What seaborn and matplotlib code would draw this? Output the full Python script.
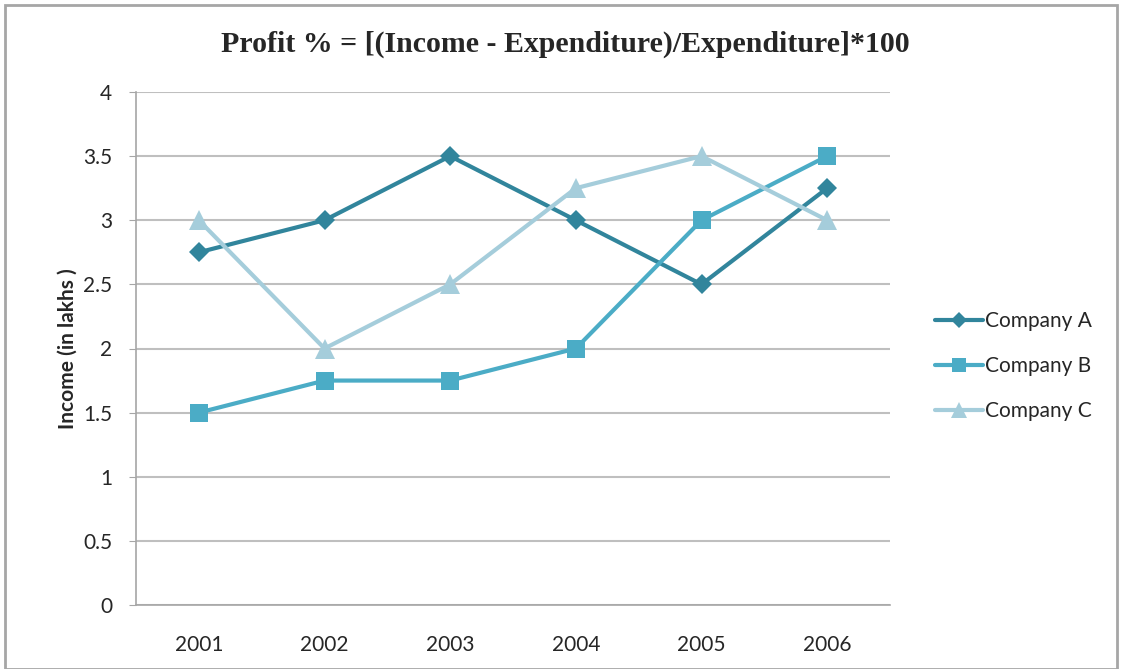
import pandas as pd
import matplotlib.pyplot as plt
import seaborn as sns
from matplotlib.patches import Rectangle

# データ
years = ['2001', '2002', '2003', '2004', '2005', '2006']
company_a = [2.75, 3.0, 3.5, 3.0, 2.5, 3.25]
company_b = [1.5, 1.75, 1.75, 2.0, 3.0, 3.5]
company_c = [3.0, 2.0, 2.5, 3.25, 3.5, 3.0]
series_names = ['Company A', 'Company B', 'Company C']

df = pd.DataFrame({
    'Year': years * 3,
    'Income': company_a + company_b + company_c,
    'Company': [n for n in series_names for _ in years],
})

sns.set_style('white')
plt.rcParams['font.family'] = ['Lato', 'DejaVu Sans']

fig = plt.figure(figsize=(11.23, 6.69), dpi=100)
ax = fig.add_axes([136 / 1123, 64 / 669, 754 / 1123, 513 / 669])

palette = {'Company A': '#31859C', 'Company B': '#4BACC6', 'Company C': '#A5CDDB'}
markers = {'Company A': 'D', 'Company B': 's', 'Company C': '^'}
sizes = {'Company A': 10, 'Company B': 13, 'Company C': 14}

for name in series_names:
    sub = df[df['Company'] == name]
    sns.lineplot(data=sub, x='Year', y='Income', ax=ax, color=palette[name],
                 marker=markers[name], markersize=sizes[name], markeredgewidth=0,
                 linewidth=3, label=name, sort=False, zorder=3)

ax.set_xlim(-0.5, 5.5)
ax.set_ylim(0, 4)
ax.set_yticks([0, 0.5, 1, 1.5, 2, 2.5, 3, 3.5, 4])
ax.set_yticklabels(['0', '0.5', '1', '1.5', '2', '2.5', '3', '3.5', '4'])
ax.yaxis.grid(True, color='#BFBFBF', linewidth=1.5)
ax.xaxis.grid(False)
for s in ['top', 'right']:
    ax.spines[s].set_visible(False)
for s in ['left', 'bottom']:
    ax.spines[s].set_color('#A6A6A6')
    ax.spines[s].set_linewidth(1.2)
ax.tick_params(axis='y', left=True, length=5, color='#A6A6A6', labelsize=15, pad=12)
ax.tick_params(axis='x', bottom=False, labelsize=15, pad=18)
ax.set_xlabel('')
ax.set_ylabel('Income (in lakhs )', fontsize=15, fontweight='bold', labelpad=4)

fig.text(565 / 1123, 1 - 44 / 669, 'Profit % = [(Income - Expenditure)/Expenditure]*100',
         ha='center', va='center', fontsize=21.5, fontweight='bold',
         family=['Liberation Serif', 'DejaVu Serif'])

# 凡例
leg = ax.legend(loc='center left', bbox_to_anchor=(1.035, 0.466), frameon=False,
                fontsize=15, handlelength=2.3, handletextpad=0.1, labelspacing=1.2,
                markerscale=0.8)

# 外枠
fig.patches.append(Rectangle((5 / 1123, 0), 1112 / 1123, 664 / 669, transform=fig.transFigure,
                             fill=False, edgecolor='#A6A6A6', linewidth=2))

plt.savefig('out.png', dpi=100)
